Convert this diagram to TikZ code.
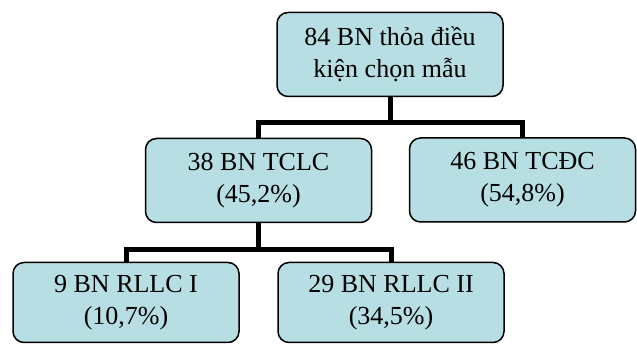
\documentclass[tikz,border=0pt]{standalone}
\usepackage{fontspec}
\setmainfont{Liberation Serif}
\usepackage{xcolor}
\definecolor{boxfill}{RGB}{183,222,226}

\begin{document}
\begin{tikzpicture}[x=1pt, y=1pt,
        group/.style={draw, line width=1.5pt, rounded corners=11pt, fill=boxfill,
                      minimum width=226pt, minimum height=84pt, align=center,
                      font=\fontsize{26}{32}\selectfont},
        conn/.style={line width=5pt}
    ]
        \useasboundingbox (0,0) rectangle (637,344);
        \node[group] (all)   at (390,289.5) {84 BN thỏa điều\\kiện chọn mẫu};
        \node[group] (tclc)  at (258.5,163.5) {38 BN TCLC\\(45,2\%)};
        \node[group] (tcdc)  at (522.5,164) {46 BN TCĐC\\(54,8\%)};
        \node[group, minimum height=80pt] (rllc1) at (126,41.5) {9 BN RLLC I\\(10,7\%)};
        \node[group, minimum height=80pt] (rllc2) at (391,41.5) {29 BN RLLC II\\(34,5\%)};
        \coordinate (bar1) at (390,221);
        \coordinate (bar2) at (258.5,94);
        \draw[conn] (all.south) -- (bar1);
        \draw[conn] (tclc.north) |- (bar1) -| (tcdc.north);
        \draw[conn] (tclc.south) -- (bar2);
        \draw[conn] (rllc1.north) |- (bar2) -| (rllc2.north);
    \end{tikzpicture}
\end{document}
